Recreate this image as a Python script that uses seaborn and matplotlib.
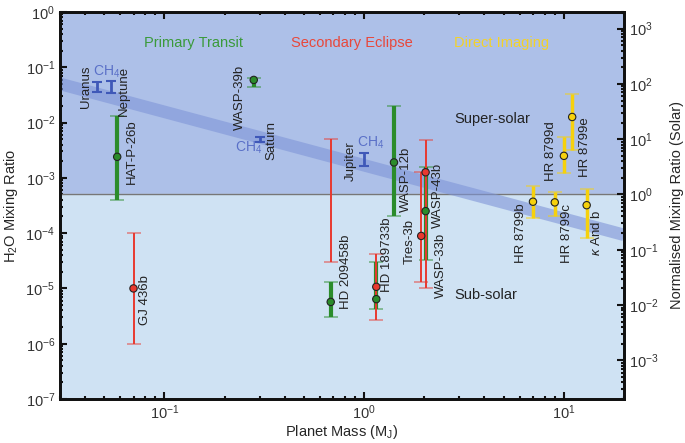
import numpy as np
import pandas as pd
import matplotlib
matplotlib.use('Agg')
import matplotlib.pyplot as plt
import seaborn as sns

# --------------------- DATA --------------------- #

solar_h2o = 5e-4

# primary transit (green)
transit_names = ['HAT-P-26b', 'WASP-39b', 'HD 209458b', 'HD 189733b', 'WASP-12b', 'WASP-43b']
transit_mass = [0.058, 0.28, 0.68, 1.15, 1.41, 2.03]
transit_h2o = [2.4e-3, 0.059, 5.7e-6, 6.4e-6, 1.9e-3, 2.5e-4]
transit_lo = [4.0e-4, 0.044, 3.1e-6, 4.3e-6, 2.0e-4, 3.3e-5]
transit_hi = [1.3e-2, 0.064, 1.3e-5, 3.0e-5, 2.0e-2, 1.6e-3]

# secondary eclipse (red)
eclipse_names = ['GJ 436b', 'HD 189733b', 'Tres-3b', 'WASP-33b']
eclipse_mass = [0.07, 1.15, 1.93, 2.03]
eclipse_h2o = [1.0e-5, 1.07e-5, 8.9e-5, 1.26e-3]
eclipse_lo = [1.0e-6, 2.7e-6, 1.3e-5, 1.0e-5]
eclipse_hi = [1.0e-4, 4.2e-5, 1.26e-3, 4.9e-3]

# HD 209458b eclipse: range only, no best fit
eclipse_range_mass = [0.68]
eclipse_range_lo = [3.0e-5]
eclipse_range_hi = [5.0e-3]

# direct imaging (yellow)
imaging_names = ['HR 8799b', 'HR 8799c', 'HR 8799d', 'HR 8799e', r'$\kappa$ And b']
imaging_mass = [7.0, 9.0, 10.0, 11.0, 13.0]
imaging_h2o = [3.7e-4, 3.6e-4, 2.5e-3, 1.26e-2, 3.2e-4]
imaging_lo = [1.9e-4, 2.0e-4, 1.2e-3, 3.2e-3, 8.1e-5]
imaging_hi = [7.0e-4, 5.6e-4, 5.4e-3, 3.3e-2, 6.3e-4]

# solar system CH4
ss_names = ['Uranus', 'Neptune', 'Saturn', 'Jupiter']
ss_mass = [0.046, 0.054, 0.30, 1.0]
ss_lo = [0.036, 0.034, 4.5e-3, 1.64e-3]
ss_hi = [0.053, 0.057, 5.5e-3, 2.8e-3]

# solar system trend band
trend_mass = [0.03, 20]
trend_h2o = [0.05, 9.3e-5]

green = '#2b8c2b'
red = '#e8392f'
yellow = '#f6d10c'
ch4_blue = '#3f58b8'

# --------------------- STYLE --------------------- #

sns.set_style('ticks')
plt.rcParams['font.family'] = ['Liberation Sans', 'DejaVu Sans']
plt.rcParams['mathtext.fontset'] = 'custom'
plt.rcParams['mathtext.rm'] = 'Liberation Sans'
plt.rcParams['mathtext.it'] = 'Liberation Sans:italic'
plt.rcParams['mathtext.bf'] = 'Liberation Sans:bold'
plt.rcParams['text.color'] = '#333333'

fig = plt.figure(figsize=(6.85, 4.43), dpi=100)
ax = fig.add_axes([0.0876, 0.0993, 0.8234, 0.8737])

ax.set_xscale('log')
ax.set_yscale('log')
ax.set_xlim(0.03, 20)
ax.set_ylim(1e-7, 1)

# regions
ax.axhspan(solar_h2o, 1, color='#adc0e8', zorder=0)
ax.axhspan(1e-7, solar_h2o, color='#cfe2f3', zorder=0)
ax.axhline(solar_h2o, color='#777777', lw=1, zorder=1)

# trend band
trend = pd.DataFrame({'mass': trend_mass, 'h2o': trend_h2o})
sns.lineplot(data=trend, x='mass', y='h2o', ax=ax, color='#7f95d8', lw=9,
             alpha=0.6, solid_capstyle='butt', zorder=2)

# solar system CH4
ss_mid = np.sqrt(np.array(ss_lo) * np.array(ss_hi))
ax.errorbar(ss_mass, ss_mid,
            yerr=[ss_mid - np.array(ss_lo), np.array(ss_hi) - ss_mid],
            fmt='none', ecolor=ch4_blue, elinewidth=2, capsize=3.5, capthick=1.5, zorder=3)


def draw_bars(mass, h2o, lo, hi, color, lw):
    h2o = np.array(h2o)
    err = [h2o - np.array(lo), np.array(hi) - h2o]
    _, caps, _ = ax.errorbar(mass, h2o, yerr=err, fmt='none', ecolor=color,
                             elinewidth=lw, capsize=5, capthick=1.2, zorder=4)
    for c in caps:
        c.set_alpha(0.55)


draw_bars(transit_mass, transit_h2o, transit_lo, transit_hi, green, 3)
draw_bars(eclipse_mass, eclipse_h2o, eclipse_lo, eclipse_hi, red, 1.4)
rng_mid = np.sqrt(np.array(eclipse_range_lo) * np.array(eclipse_range_hi))
draw_bars(eclipse_range_mass, rng_mid, eclipse_range_lo, eclipse_range_hi, red, 1.4)
draw_bars(imaging_mass, imaging_h2o, imaging_lo, imaging_hi, yellow, 2.5)

points = pd.concat([
    pd.DataFrame({'mass': transit_mass, 'h2o': transit_h2o, 'method': 'transit'}),
    pd.DataFrame({'mass': eclipse_mass, 'h2o': eclipse_h2o, 'method': 'eclipse'}),
    pd.DataFrame({'mass': imaging_mass, 'h2o': imaging_h2o, 'method': 'imaging'}),
])
sns.scatterplot(data=points, x='mass', y='h2o', hue='method', ax=ax,
                palette={'transit': green, 'eclipse': red, 'imaging': yellow},
                s=28, edgecolor='#222222', linewidth=0.8, legend=False, zorder=5)

# planet labels (rotated)
label_pos = {
    'Uranus': (0.0407, 0.044), 'Neptune': (0.0624, 0.0373),
    'HAT-P-26b': (0.0684, 2.93e-3), 'WASP-39b': (0.24, 0.029),
    'Saturn': (0.343, 4.65e-3), 'GJ 436b': (0.080, 6.2e-6),
    'HD 209458b': (0.813, 2.0e-5), 'HD 189733b': (1.30, 4.0e-5),
    'Jupiter': (0.861, 2.0e-3), 'WASP-12b': (1.62, 9.5e-4),
    'WASP-43b': (2.34, 4.9e-4), 'Tres-3b': (1.70, 7.2e-5),
    'WASP-33b': (2.42, 2.56e-5), 'HR 8799b': (6.10, 1.0e-4),
    'HR 8799c': (10.35, 1.0e-4), 'HR 8799d': (8.61, 3.1e-3),
    'HR 8799e': (12.7, 3.6e-3), r'$\kappa$ And b': (14.6, 1.0e-4),
}
for name, (x, y) in label_pos.items():
    ax.text(x, y, name, rotation=90, ha='center', va='center', fontsize=9.5,
            color='#222222', zorder=6)

# CH4 labels
for x, y in [(0.0437, 0.082), (0.226, 3.5e-3), (0.923, 4.3e-3)]:
    ax.text(x, y, 'CH$_4$', ha='left', va='center', fontsize=10, color='#5a70c8', zorder=6)

# category titles
ax.text(0.236, 0.92, 'Primary Transit', transform=ax.transAxes, ha='center',
        va='center', fontsize=10.5, color='#3a9a3a')
ax.text(0.518, 0.92, 'Secondary Eclipse', transform=ax.transAxes, ha='center',
        va='center', fontsize=10.5, color='#e8473a')
ax.text(0.782, 0.92, 'Direct Imaging', transform=ax.transAxes, ha='center',
        va='center', fontsize=10.5, color='#f3d22a')
ax.text(0.766, 0.724, 'Super-solar', transform=ax.transAxes, ha='center',
        va='center', fontsize=10.5, color='#222222')
ax.text(0.755, 0.269, 'Sub-solar', transform=ax.transAxes, ha='center',
        va='center', fontsize=10.5, color='#222222')

# axes
ax.set_xlabel('Planet Mass (M$_\\mathrm{J}$)', fontsize=10.5, labelpad=1)
ax.set_ylabel('H$_2$O Mixing Ratio', fontsize=10.5, labelpad=4)
ax.set_yticks([10.0 ** k for k in range(-7, 1)])
ax.set_xticks([0.1, 1, 10])
ax.tick_params(which='both', direction='in', top=True, right=False, width=1.5,
               labelsize=10.5, colors='#111111', labelcolor='#333333')
ax.tick_params(which='major', length=5)
ax.tick_params(which='minor', length=2.5)
ax.tick_params(axis='x', pad=3)
for s in ax.spines.values():
    s.set_linewidth(2)
    s.set_color('#111111')

ax2 = ax.twinx()
ax2.set_yscale('log')
ax2.set_ylim(1e-7 / solar_h2o, 1 / solar_h2o)
ax2.set_yticks([10.0 ** k for k in range(-3, 4)])
ax2.tick_params(which='both', direction='in', width=1.5, labelsize=10.5,
                colors='#111111', labelcolor='#333333')
ax2.tick_params(which='major', length=5)
ax2.tick_params(which='minor', length=2.5)
ax2.set_ylabel('Normalised Mixing Ratio (Solar)', fontsize=10.5, labelpad=8)
for s in ax2.spines.values():
    s.set_linewidth(2)
    s.set_color('#111111')

fig.savefig('out.png', dpi=100)
